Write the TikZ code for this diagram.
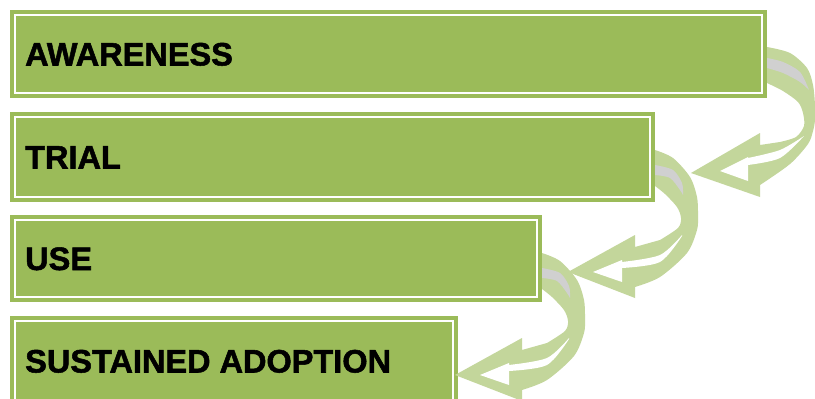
\documentclass[tikz,border=0pt]{standalone}
\usepackage{fontspec}
\newfontfamily\lblfont{Liberation Sans}[BoldFeatures={FakeBold=1.6}]
\definecolor{boxgreen}{RGB}{155,187,89}
\definecolor{arrgreen}{RGB}{195,214,155}
\definecolor{arrgray}{RGB}{208,208,208}
\pgfdeclarelayer{bgwhite}
\pgfdeclarelayer{LfourB}
\pgfdeclarelayer{LthreeA}
\pgfdeclarelayer{LthreeB}
\pgfdeclarelayer{LtwoA}
\pgfdeclarelayer{LtwoB}
\pgfdeclarelayer{LoneA}
\pgfsetlayers{bgwhite,LfourB,LthreeA,LthreeB,LtwoA,LtwoB,LoneA,main}
\tikzset{
  box/.style={fill=boxgreen, anchor=north west, inner sep=0pt, outer sep=0pt,
    path picture={\draw[white, line width=1.1pt]
      ([shift={(5pt,-5pt)}]path picture bounding box.north west) rectangle
      ([shift={(-5pt,5pt)}]path picture bounding box.south east);}},
  lbl/.style={font=\lblfont\bfseries\fontsize{32.5}{36}\selectfont, anchor=base west,
    inner sep=0pt, text=black},
  arrfill/.style={fill=arrgreen},
  grayfill/.style={fill=arrgray},
  holefill/.style={fill=white},
}
% ribbon arrow from the first box to the second (coordinates relative to box NE corner)
\newcommand\ribbonA{%
  \fill[arrfill] (-10,37) -- plot[smooth] coordinates {(0,37) (23,43) (40,58) (46,75) (48,95) (48,110) (46,121) (41,134) (23,154) (-7,175)}
    -- (-7,187) -- (-76,163) -- (-7,123) -- (-7,135)
    -- plot[smooth] coordinates {(13,132) (29,127) (37,116) (36,103) (31,92) (16,81) (0,73)} -- (-10,73) -- cycle;
  \fill[grayfill] (-10,48) -- plot[smooth] coordinates {(0,48) (16,52) (33,62) (42,80)}
    -- plot[smooth] coordinates {(42,80) (33,72) (16,63) (0,58)} -- (-10,58) -- cycle;
  \fill[holefill] (-47,161) -- (-19,147)
    -- plot[smooth] coordinates {(-19,148) (13,140) (37,126)}
    -- plot[smooth] coordinates {(37,126) (13,148) (-19,155)} -- (-19,171) -- cycle;
}
% ribbon arrow used for the lower two steps
\newcommand\ribbonB{%
  \fill[arrfill] (-10,38) -- plot[smooth] coordinates {(0,38) (18,46) (35,65) (42,85) (43,103) (42,118) (32,141) (5,165) (-20,175)}
    -- (-20,186) -- (-87,160) -- (-20,123) -- (-20,135)
    -- plot[smooth] coordinates {(5,128) (23,116) (26,106) (22,95) (10,82) (0,74)} -- (-10,74) -- cycle;
  \fill[grayfill] (-10,53) -- plot[smooth] coordinates {(0,53) (18,58) (27,71) (28,83)}
    -- plot[smooth] coordinates {(28,83) (25,78) (15,66) (0,63)} -- (-10,63) -- cycle;
  \fill[holefill] (-62,160) -- (-33,148)
    -- plot[smooth] coordinates {(-33,150) (5,143) (27,123)}
    -- plot[smooth] coordinates {(27,124) (5,150) (-33,156)} -- (-33,170) -- cycle;
}
\begin{document}
\begin{tikzpicture}[x=1pt,y=-1pt]
\useasboundingbox (0,0) rectangle (815,399);
\begin{pgfonlayer}{bgwhite}
  \fill[white] (0,0) rectangle (815,399);
\end{pgfonlayer}
% boxes
\begin{pgfonlayer}{LfourB}
  \node[box, minimum width=448pt, minimum height=90pt] (b4) at (10,316) {};
\end{pgfonlayer}
\begin{pgfonlayer}{LthreeB}
  \node[box, minimum width=532pt, minimum height=87pt] (b3) at (10,215) {};
\end{pgfonlayer}
\begin{pgfonlayer}{LtwoB}
  \node[box, minimum width=645pt, minimum height=90pt] (b2) at (10,112) {};
\end{pgfonlayer}
\node[box, minimum width=757pt, minimum height=88pt] (b1) at (10,10) {};
% arrows
\begin{pgfonlayer}{LoneA}
  \begin{scope}[shift={(b1.north east)}]\ribbonA\end{scope}
\end{pgfonlayer}
\begin{pgfonlayer}{LtwoA}
  \begin{scope}[shift={(b2.north east)}]\ribbonB\end{scope}
\end{pgfonlayer}
\begin{pgfonlayer}{LthreeA}
  \begin{scope}[shift={(b3.north east)}]\ribbonB\end{scope}
\end{pgfonlayer}
% labels
\node[lbl] (t1) at ([shift={(15pt,-11.5pt)}]b1.west) {AWARENESS};
\node[lbl] (t2) at ([shift={(15pt,-11.5pt)}]b2.west) {TRIAL};
\node[lbl] (t3) at ([shift={(15pt,-11.5pt)}]b3.west) {USE};
\node[lbl] (t4) at ([shift={(15pt,-11.5pt)}]b4.west) {SUSTAINED ADOPTION};
\end{tikzpicture}
\end{document}
